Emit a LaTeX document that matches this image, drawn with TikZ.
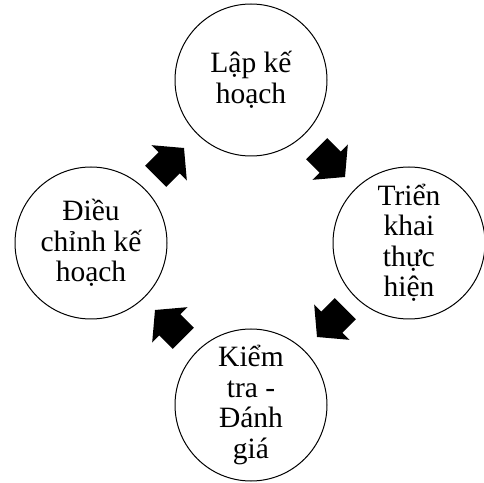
\documentclass[tikz,border=0pt]{standalone}
\usepackage{fontspec}
\setmainfont{Liberation Serif}
\tikzset{
  x=1pt,y=1pt,
  stage/.style={draw=black, line width=1pt, circle, minimum size=152pt, inner sep=0pt,
    align=center, font=\fontsize{29.5}{30.5}\selectfont},
  blockarrow/.pic={\fill[black] (0,0) -- (-21,25) -- (-21,15) -- (-40,15) -- (-40,-15) -- (-21,-15) -- (-21,-25) -- cycle;}
}
\begin{document}
\begin{tikzpicture}
\useasboundingbox (0,0) rectangle (484,482);
\node[stage] (plan) at (251,402) {Lập kế\\hoạch};
\node[stage] (impl) at (409,239) {Triển\\khai\\thực\\hiện};
\node[stage] (eval) at (251,77) {Kiểm\\tra -\\Đánh\\giá};
\node[stage] (adj) at (91,239) {Điều\\chỉnh kế\\hoạch};
\coordinate (a1) at (184,334);
\coordinate (a2) at (345,305);
\coordinate (a3) at (317,145);
\coordinate (a4) at (155,172);
\pic[rotate=45] at (a1) {blockarrow};
\pic[rotate=-45] at (a2) {blockarrow};
\pic[rotate=-135] at (a3) {blockarrow};
\pic[rotate=135] at (a4) {blockarrow};
\end{tikzpicture}
\end{document}
